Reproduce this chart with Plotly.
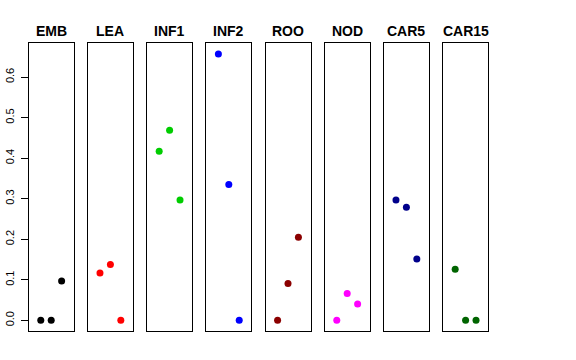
import plotly.graph_objects as go

panels = ["EMB", "LEA", "INF1", "INF2", "ROO", "NOD", "CAR5", "CAR15"]
colors = ["#000000", "#FF0000", "#00CD00", "#0000FF", "#8B0000", "#FF00FF", "#00008B", "#006400"]
x_pos = [1, 2, 3]
emb = [0.0, 0.0, 0.097]
lea = [0.117, 0.138, 0.0]
inf1 = [0.417, 0.469, 0.297]
inf2 = [0.657, 0.335, 0.0]
roo = [0.0, 0.091, 0.205]
nod = [0.0, 0.066, 0.040]
car5 = [0.297, 0.279, 0.151]
car15 = [0.126, 0.0, 0.0]
series = [emb, lea, inf1, inf2, roo, nod, car5, car15]
y_ticks = [0.0, 0.1, 0.2, 0.3, 0.4, 0.5, 0.6]
y_tick_text = ["0.0", "0.1", "0.2", "0.3", "0.4", "0.5", "0.6"]

W, H = 576, 360
left0, pitch, pw = 28.7, 59.2, 45.0
top_px, bot_px = 43.3, 331.0
yrange = [-0.0263, 0.6833]
xrange = [-0.16, 4.16]

fig = go.Figure()
layout = dict(
    width=W, height=H,
    margin=dict(l=0, r=0, t=0, b=0, autoexpand=False),
    paper_bgcolor="white", plot_bgcolor="white",
    showlegend=False,
    font=dict(family="Liberation Sans, Arial, sans-serif", size=11, color="black"),
)
annotations = []
for i, (name, col, vals) in enumerate(zip(panels, colors, series)):
    k = "" if i == 0 else str(i + 1)
    fig.add_trace(go.Scatter(
        x=x_pos, y=vals, mode="markers",
        marker=dict(color=col, size=7, line=dict(width=0)),
        xaxis="x" + k, yaxis="y" + k, name=name,
    ))
    l = left0 + i * pitch
    r = l + pw
    layout["xaxis" + k] = dict(
        domain=[l / W, r / W], range=xrange, anchor="y" + k,
        showgrid=False, zeroline=False, showticklabels=False, ticks="",
        showline=True, mirror=True, linecolor="black", linewidth=1,
        fixedrange=True, automargin=False,
    )
    yax = dict(
        domain=[1 - bot_px / H, 1 - top_px / H], range=yrange, anchor="x" + k,
        showgrid=False, zeroline=False,
        showline=True, mirror=True, linecolor="black", linewidth=1,
        fixedrange=True, automargin=False,
    )
    if i == 0:
        yax.update(tickmode="array", tickvals=y_ticks, ticktext=y_tick_text,
                   ticks="outside", ticklen=7, tickcolor="black", tickwidth=1,
                   tickangle=-90, tickfont=dict(size=11), ticklabelstandoff=2)
    else:
        yax.update(showticklabels=False, ticks="")
    layout["yaxis" + k] = yax
    annotations.append(dict(
        text="<b>" + name + "</b>", x=(l + r) / 2 / W, y=1 - 31 / H,
        xref="paper", yref="paper", xanchor="center", yanchor="middle",
        showarrow=False, font=dict(size=14, color="black"),
    ))
layout["annotations"] = annotations
fig.update_layout(**layout)
fig.write_html("out.html", config={"displayModeBar": False},
               post_script="document.body.style.margin='0px';document.body.style.overflow='hidden';")
